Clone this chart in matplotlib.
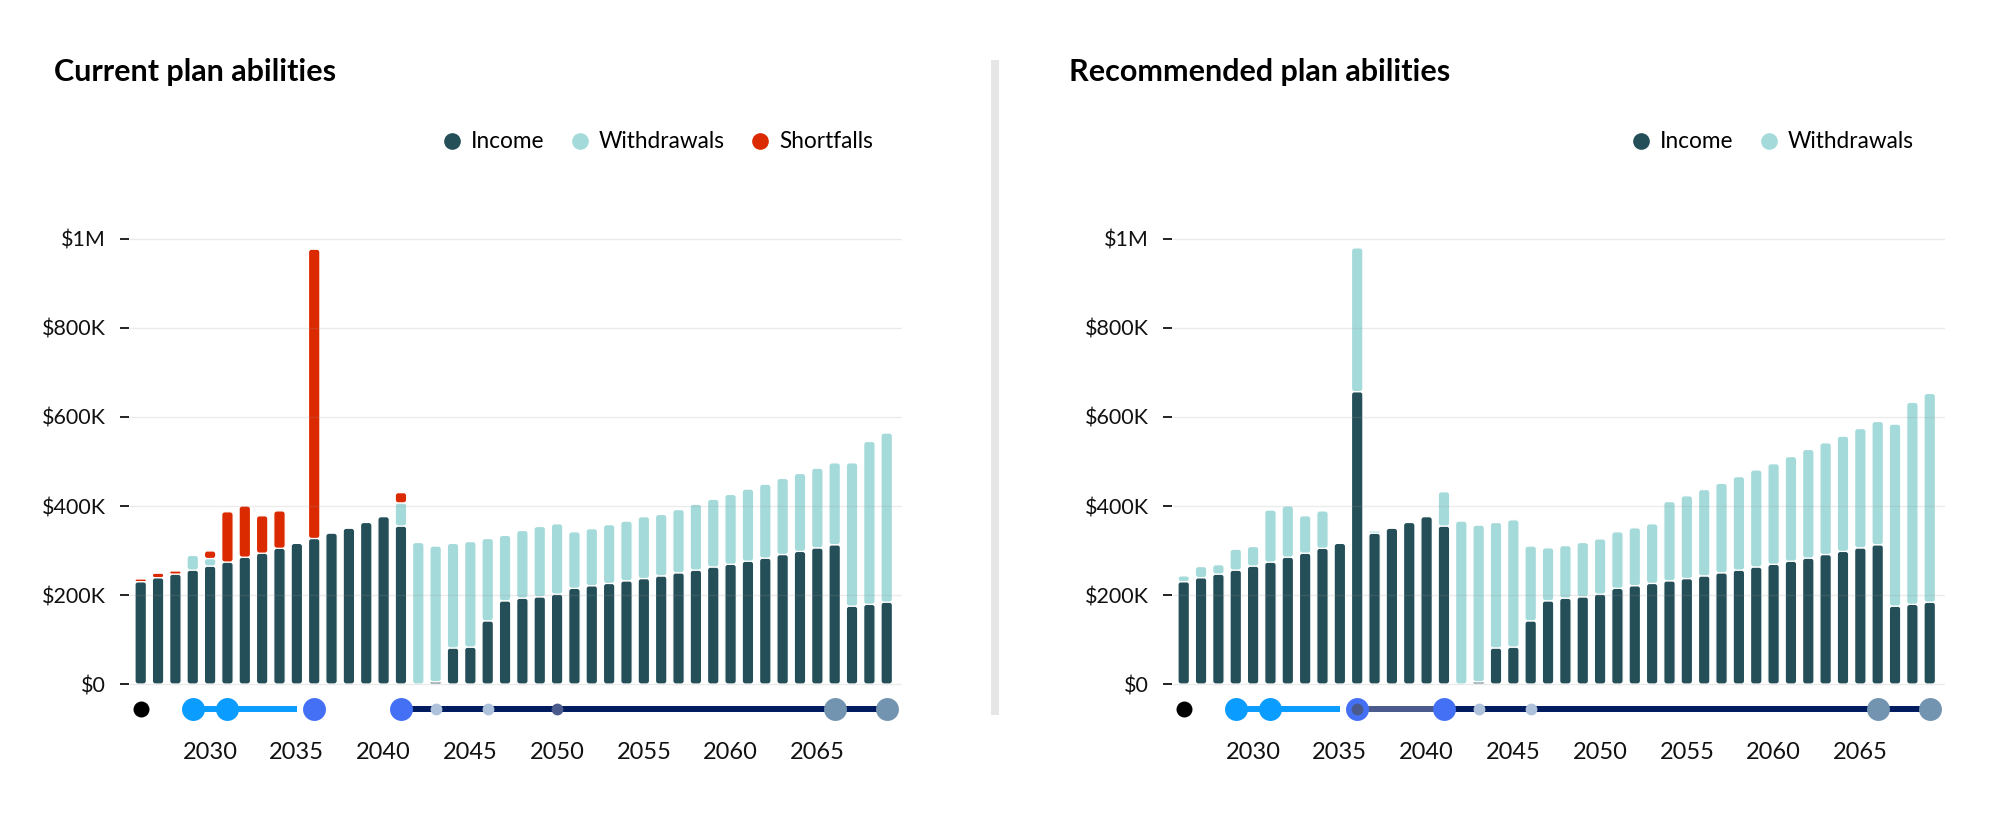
import matplotlib
matplotlib.use("Agg")
import matplotlib.pyplot as plt
from matplotlib.patches import FancyBboxPatch, Rectangle
from matplotlib.lines import Line2D
import numpy as np

plt.rcParams['font.family'] = ['Lato', 'DejaVu Sans']

years = list(range(2026, 2070))

income_current = [230, 239, 247, 256, 265, 274, 285, 294, 305, 316,
                  327, 339, 350, 363, 376, 355, 0, 5, 81, 83,
                  142, 187, 193, 196, 202, 215, 221, 226, 232, 237,
                  243, 250, 256, 263, 269, 276, 283, 291, 298, 306,
                  313, 175, 179, 184]
withdrawals_current = [0, 0, 0, 33, 17, 0, 0, 0, 0, 0,
                       0, 0, 0, 0, 0, 52, 318, 305, 235, 237,
                       185, 147, 152, 158, 158, 127, 128, 132, 134, 139,
                       138, 142, 148, 152, 157, 162, 166, 171, 175, 179,
                       184, 322, 366, 380]
shortfalls_current = [6, 10, 7, 0, 17, 113, 115, 84, 84, 0,
                      650, 0, 0, 0, 0, 23, 0, 0, 0, 0,
                      0, 0, 0, 0, 0, 0, 0, 0, 0, 0,
                      0, 0, 0, 0, 0, 0, 0, 0, 0, 0,
                      0, 0, 0, 0]

income_recommended = [230, 239, 247, 256, 265, 274, 285, 294, 305, 316,
                      657, 339, 350, 363, 376, 355, 0, 5, 81, 83,
                      142, 187, 193, 196, 202, 215, 221, 226, 232, 237,
                      243, 250, 256, 263, 269, 276, 283, 291, 298, 306,
                      313, 175, 179, 184]
withdrawals_recommended = [13, 25, 21, 47, 44, 117, 115, 84, 84, 0,
                           323, 5, 0, 0, 0, 77, 366, 352, 282, 286,
                           168, 119, 118, 122, 124, 127, 130, 134, 178, 186,
                           194, 201, 210, 218, 226, 235, 244, 251, 259, 268,
                           277, 409, 454, 469]

y_ticks = [0, 200, 400, 600, 800, 1000]
y_tick_labels = ["$0", "$200K", "$400K", "$600K", "$800K", "$1M"]
x_ticks = [2030, 2035, 2040, 2045, 2050, 2055, 2060, 2065]

# Timeline events
tl_black = [2026]
tl_light_blue = [2029, 2031]
tl_light_line = [2029, 2035]
tl_blue_current = [2036, 2041]
tl_navy_line = [2041, 2069]
tl_small_light_current = [2043, 2046]
tl_small_dark_current = [2050]
tl_big_gray = [2066, 2069]

tl_blue_recommended = [2036, 2041]
tl_mid_line_recommended = [2036, 2041]
tl_small_light_recommended = [2043, 2046]
tl_inner_dark_recommended = [2036]

C_INCOME = '#244f58'
C_WITH = '#a5dada'
C_SHORT = '#dc2a00'
C_LIGHTBLUE = '#0a9cff'
C_BLUE = '#4470f6'
C_NAVY = '#001b5e'
C_MID = '#4a5a8c'
C_SMALL_LIGHT = '#afc2dc'
C_BIG_GRAY = '#7294b0'

W, H = 2000, 827
fig = plt.figure(figsize=(W / 100, H / 100), dpi=100)

XLIM = (2025.383, 2069.88)
YLIM = (-92.1, 1087.6)
ax_w_px, ax_h_px = 772, 525
TL_Y = -56


def rounded_bars(ax, bars, color, radius_px=3.0):
    px_x = ax_w_px / (XLIM[1] - XLIM[0])
    px_y = ax_h_px / (YLIM[1] - YLIM[0])
    aspect = px_x / px_y
    for r in list(bars):
        x, y, w, h = r.get_x(), r.get_y(), r.get_width(), r.get_height()
        r.remove()
        if h <= 0:
            continue
        rs = min(radius_px / px_x, w / 2, (h / aspect) / 2)
        p = FancyBboxPatch((x, y), w, h,
                           boxstyle=f"round,pad=0,rounding_size={rs}",
                           mutation_aspect=aspect,
                           facecolor=color, edgecolor='white', linewidth=0.9,
                           zorder=2)
        ax.add_patch(p)


def setup_axes(ax):
    ax.set_xlim(*XLIM)
    ax.set_ylim(*YLIM)
    for s in ax.spines.values():
        s.set_visible(False)
    ax.spines['left'].set_position(('outward', 1))
    ax.set_yticks(y_ticks)
    ax.set_yticklabels(y_tick_labels, fontsize=15.5, color='#111111')
    ax.tick_params(axis='y', length=6.5, width=1.3, color='#111111', pad=10)
    ax.set_xticks(x_ticks)
    ax.set_xticklabels([str(t) for t in x_ticks], fontsize=17, color='#111111')
    ax.tick_params(axis='x', length=0, pad=12)
    for yv in y_ticks:
        ax.axhline(yv, color='#969696', alpha=0.19, linewidth=1.0, zorder=3)


def stacked(ax, series):
    bottom = np.zeros(len(years))
    for vals, color in series:
        v = np.array(vals, dtype=float)
        bars = ax.bar(years, v, bottom=bottom, width=0.66, color=color)
        rounded_bars(ax, bars, color)
        bottom = bottom + v


def dots(ax, xs, color, size, z=5):
    ax.plot(xs, [TL_Y] * len(xs), linestyle='none', marker='o', markersize=size,
            markerfacecolor=color, markeredgecolor='none', clip_on=False, zorder=z)


def seg(ax, xs, color, lw=4.3, z=4):
    ax.plot(xs, [TL_Y] * len(xs), color=color, linewidth=lw, solid_capstyle='butt',
            clip_on=False, zorder=z)


def legend(ax, labels, colors, anchor_x):
    handles = [Line2D([], [], linestyle='none', marker='o', markersize=12,
                      markerfacecolor=c, markeredgecolor='none') for c in colors]
    fig.legend(handles, labels, loc='center right',
               bbox_to_anchor=(anchor_x / W, 1 - 142 / H),
               ncol=len(labels), frameon=False, fontsize=16.3,
               handlelength=0.7, handletextpad=0.5, columnspacing=1.2,
               borderpad=0, borderaxespad=0)


# Left panel
ax1 = fig.add_axes([130 / W, 1 - 725 / H, ax_w_px / W, ax_h_px / H])
setup_axes(ax1)
stacked(ax1, [(income_current, C_INCOME), (withdrawals_current, C_WITH),
              (shortfalls_current, C_SHORT)])
dots(ax1, tl_black, 'black', 11.5)
seg(ax1, tl_light_line, C_LIGHTBLUE)
dots(ax1, tl_light_blue, C_LIGHTBLUE, 16.5)
seg(ax1, tl_navy_line, C_NAVY)
dots(ax1, tl_blue_current, C_BLUE, 16.5)
dots(ax1, tl_small_light_current, C_SMALL_LIGHT, 8.5)
dots(ax1, tl_small_dark_current, C_MID, 8.5)
dots(ax1, tl_big_gray, C_BIG_GRAY, 16.5)

fig.text(54 / W, 1 - 72 / H, "Current plan abilities", fontsize=22,
         fontweight='bold', va='center', ha='left', color='black')
legend(ax1, ["Income", "Withdrawals", "Shortfalls"],
       [C_INCOME, C_WITH, C_SHORT], 873)

# Right panel
ax2 = fig.add_axes([1173 / W, 1 - 725 / H, ax_w_px / W, ax_h_px / H])
setup_axes(ax2)
stacked(ax2, [(income_recommended, C_INCOME), (withdrawals_recommended, C_WITH)])
dots(ax2, tl_black, 'black', 11.5)
seg(ax2, tl_light_line, C_LIGHTBLUE)
dots(ax2, tl_light_blue, C_LIGHTBLUE, 16.5)
seg(ax2, tl_mid_line_recommended, C_MID)
seg(ax2, tl_navy_line, C_NAVY)
dots(ax2, tl_blue_recommended, C_BLUE, 16.5)
dots(ax2, tl_inner_dark_recommended, C_MID, 8.5, z=6)
dots(ax2, tl_small_light_recommended, C_SMALL_LIGHT, 8.5)
dots(ax2, tl_big_gray, C_BIG_GRAY, 16.5)

fig.text(1069 / W, 1 - 72 / H, "Recommended plan abilities", fontsize=22,
         fontweight='bold', va='center', ha='left', color='black')
legend(ax2, ["Income", "Withdrawals"], [C_INCOME, C_WITH], 1914)

# Separator
fig.add_artist(Rectangle((991 / W, 1 - 715 / H), 8 / W, 655 / H,
                         transform=fig.transFigure, facecolor='#e6e6e6',
                         edgecolor='none'))

fig.savefig("out.png", dpi=100, facecolor='white')
